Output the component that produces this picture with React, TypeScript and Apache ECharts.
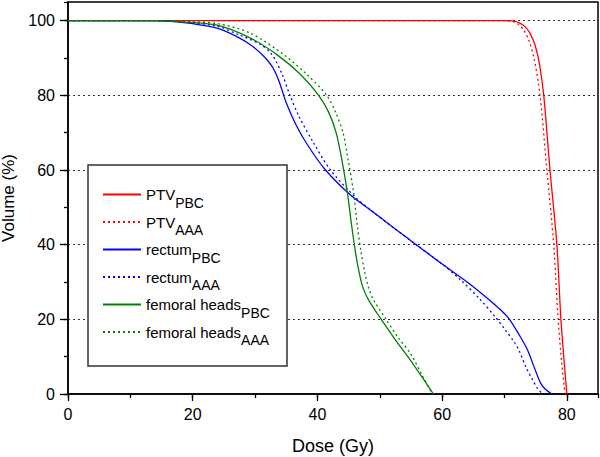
import React, { useEffect, useRef } from 'react';
import * as echarts from 'echarts';

const xTicks = [0, 20, 40, 60, 80];
const yTicks = [0, 20, 40, 60, 80, 100];

const ptvPbcDose = [0, 70, 71.5, 72.4, 73.3, 74.1, 74.9, 75.6, 76.3, 77.3, 78.4, 79.05, 79.6, 80];
const ptvPbcVol = [100, 100, 99.9, 99.4, 98.4, 96.6, 93.5, 88.5, 80, 60, 40, 20, 8, 0];

const ptvAaaDose = [0, 70, 71.3, 72.2, 73.1, 73.9, 74.8, 75.7, 76.8, 77.9, 78.6, 79.2, 79.7];
const ptvAaaVol = [100, 100, 99.8, 99.1, 97.4, 94.8, 89.5, 80, 60, 40, 20, 8, 0];

const rectumPbcDose = [0, 14, 16.4, 20, 23.9, 27, 29.2, 31.2, 32.7, 33.8, 35.0, 36.6, 38.5, 41.3, 45.3, 48.5, 52, 56, 60, 64, 67, 69.4, 70.8, 72.3, 73.7, 74.8, 75.8, 76.6, 77.6];
const rectumPbcVol = [100, 100, 99.8, 99.2, 98.0, 95.8, 93.6, 90.8, 87.8, 84, 78, 72, 66.5, 60, 53.3, 49.3, 44.8, 39.8, 34.8, 30, 26, 22.5, 20, 16, 11.8, 7, 2.9, 1.2, 0];

const rectumAaaDose = [0, 14, 17, 20, 24, 27, 30.8, 32.7, 34.3, 35.6, 37, 39.3, 42.1, 46.1, 48.5, 52, 56, 60, 63, 66, 68.6, 70.2, 71.4, 72.3, 73.5, 74.5, 75.3, 76.1];
const rectumAaaVol = [100, 100, 99.8, 99.4, 98.5, 96.5, 93.7, 90.9, 85.8, 80, 74.5, 67.5, 60, 52.7, 49.3, 44.8, 39.8, 34.8, 30.5, 25.5, 20.5, 17, 14.3, 11.8, 7, 3.8, 1.5, 0];

const femoralPbcDose = [0, 14, 18, 23.9, 29.2, 33.5, 37.3, 40.2, 41.8, 43.0, 44.0, 44.8, 45.5, 46.1, 46.7, 47.3, 48.2, 50.1, 52.5, 54.9, 56.8, 58.6];
const femoralPbcVol = [100, 100, 99.7, 98.8, 95.4, 90.9, 85.6, 80, 75.5, 70, 62, 54, 45, 38, 32.5, 28.5, 25.2, 20.3, 14.5, 9.1, 4.5, 0];

const femoralAaaDose = [0, 14, 18, 24, 29.2, 34.6, 38.3, 41.5, 42.9, 44.1, 45.0, 45.8, 46.4, 47.0, 47.6, 48.2, 49.0, 50.9, 53, 54.9, 56.8, 58.4];
const femoralAaaVol = [100, 100, 99.8, 99.2, 96.7, 90.9, 85.6, 80, 75.5, 70, 62, 54, 45, 38, 32.5, 28.5, 25.2, 20.3, 15, 10.9, 5, 0];

const seriesNames = ['PTV_PBC', 'PTV_AAA', 'rectum_PBC', 'rectum_AAA', 'femoral heads_PBC', 'femoral heads_AAA'];
const seriesColors = ['#ff0000', '#ff0000', '#0000ff', '#0000ff', '#008000', '#008000'];
const seriesDotted = [false, true, false, true, false, true];
const seriesDoses = [ptvPbcDose, ptvAaaDose, rectumPbcDose, rectumAaaDose, femoralPbcDose, femoralAaaDose];
const seriesVols = [ptvPbcVol, ptvAaaVol, rectumPbcVol, rectumAaaVol, femoralPbcVol, femoralAaaVol];

const FONT = '"Liberation Sans", Arial, sans-serif';

export default function App() {
  const ref = useRef<HTMLDivElement>(null);
  useEffect(() => {
    if (!ref.current) return;
    const chart = echarts.init(ref.current, undefined, { renderer: 'svg' });
    const series: any[] = seriesNames.map((name, i) => ({
      name,
      type: 'line',
      xAxisIndex: 0,
      yAxisIndex: 0,
      data: seriesDoses[i].map((d, j) => [d, seriesVols[i][j]]),
      symbol: 'none',
      showSymbol: false,
      smooth: 0.3,
      z: 2,
      lineStyle: { color: seriesColors[i], width: 1.3, type: seriesDotted[i] ? [2, 3] : 'solid' },
      itemStyle: { color: seriesColors[i] },
    }));
    const axisLabelStyle = { fontSize: 16, color: '#000', fontFamily: FONT };
    chart.setOption({
      animation: false,
      backgroundColor: '#fff',
      grid: {
        left: 68, right: 2, top: 2, bottom: 63, show: true, borderColor: '#000', borderWidth: 1.5,
        backgroundColor: 'transparent', containLabel: false, outerBoundsMode: 'none',
      },
      xAxis: [
        {
          type: 'value', min: 0, max: 85, interval: 20, position: 'bottom',
          axisLine: { show: true, lineStyle: { color: '#000', width: 1.5 } },
          axisTick: { show: true, inside: false, length: 7, lineStyle: { color: '#000', width: 1.3 } },
          axisLabel: { ...axisLabelStyle, margin: 12, showMaxLabel: false, formatter: (v: number) => (xTicks.includes(v) ? String(v) : '') },
          splitLine: { show: false },
          name: 'Dose (Gy)', nameLocation: 'middle', nameGap: 43,
          nameTextStyle: { fontSize: 18, color: '#000', fontFamily: FONT },
        },
        {
          type: 'value', min: 0, max: 85, interval: 10, position: 'bottom',
          axisLine: { show: false },
          axisTick: { show: true, inside: false, length: 4, lineStyle: { color: '#000', width: 1.3 } },
          axisLabel: { show: false },
          splitLine: { show: false },
        },
      ],
      yAxis: [
        {
          type: 'value', min: 0, max: 105, interval: 20, position: 'left',
          axisLine: { show: true, lineStyle: { color: '#000', width: 1.5 } },
          axisTick: { show: true, inside: false, length: 8, lineStyle: { color: '#000', width: 1.3 } },
          axisLabel: { ...axisLabelStyle, margin: 13, showMaxLabel: false, formatter: (v: number) => (yTicks.includes(v) ? String(v) : '') },
          splitLine: { show: true, lineStyle: { color: '#333', width: 1.2, type: [2, 3] } },
          name: 'Volume (%)', nameLocation: 'middle', nameGap: 40,
          nameTextStyle: { fontSize: 17, color: '#000', fontFamily: FONT },
        },
        {
          type: 'value', min: 0, max: 105, interval: 10, position: 'left',
          axisLine: { show: false },
          axisTick: { show: true, inside: false, length: 4, lineStyle: { color: '#000', width: 1.3 } },
          axisLabel: { show: false },
          splitLine: { show: false },
        },
      ],
      graphic: [
        {
          type: 'rect', z: 3,
          shape: { x: 88, y: 165, width: 199, height: 201 },
          style: { fill: '#fff', stroke: '#333', lineWidth: 1.5 },
        },
      ],
      legend: {
        orient: 'vertical', left: 102, top: 187, padding: 0, z: 4,
        itemWidth: 38, itemHeight: 14, itemGap: 5,
        data: seriesNames,
        itemStyle: { color: 'rgba(0,0,0,0)', borderColor: 'rgba(0,0,0,0)', borderWidth: 0, opacity: 0 },
        formatter: (name: string) => {
          const [b, s] = name.split('_');
          return `{b|${b}}{s|${s}}`;
        },
        textStyle: {
          fontFamily: FONT, color: '#000', fontSize: 15,
          rich: {
            b: { fontSize: 15, fontFamily: FONT, color: '#000', verticalAlign: 'middle' },
            s: { fontSize: 14, fontFamily: FONT, color: '#000', verticalAlign: 'middle', padding: [16, 0, 0, 0] },
          },
        },
      },
      series,
    });
    return () => chart.dispose();
  }, []);
  return <div ref={ref} style={{ position: 'absolute', left: 0, top: 0, width: 600, height: 457 }} />;
}
